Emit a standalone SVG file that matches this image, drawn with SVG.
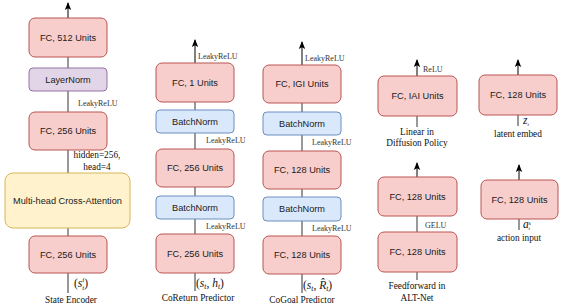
<svg xmlns="http://www.w3.org/2000/svg" width="563" height="307" viewBox="0 0 563 307">
<style>
.fc{fill:#f8cecc;stroke:#b85450;stroke-width:1}
.ln{fill:#e1d5e7;stroke:#9673a6;stroke-width:1}
.bn{fill:#dae8fc;stroke:#6c8ebf;stroke-width:1}
.att{fill:#fff2cc;stroke:#d6b656;stroke-width:1}
.t{font-family:"Liberation Sans",Arial,sans-serif;font-size:9.2px;fill:#1a1a1a;text-anchor:middle;dominant-baseline:central}
.s{font-family:"Liberation Serif","Times New Roman",serif;font-size:8px;fill:#333}
.c{font-family:"Liberation Serif","Times New Roman",serif;font-size:9.3px;fill:#111;text-anchor:middle}
.m{font-family:"Liberation Serif","Times New Roman",serif;font-size:11.5px;fill:#111}
.mi{font-style:italic}
.e{stroke:#333;stroke-width:1;fill:none}
.ea{stroke:#000;stroke-width:1;fill:none;marker-end:url(#ah)}
</style>
<defs>
<marker id="ah" markerUnits="userSpaceOnUse" markerWidth="8" markerHeight="8" viewBox="0 0 8 8" refX="7" refY="4" orient="auto">
<path d="M0,0.8 L8,4 L0,7.2 L1.8,4 Z" fill="#000"/>
</marker>
</defs>
<g id="connectors">
<line class="ea" x1="68" y1="18" x2="68" y2="3"/>
<line class="e" x1="68" y1="57" x2="68" y2="68"/>
<line class="e" x1="68" y1="91" x2="68" y2="112"/>
<line class="e" x1="68" y1="150" x2="68" y2="173"/>
<line class="e" x1="68" y1="228" x2="68" y2="236"/>
<line class="e" x1="68" y1="273" x2="68" y2="293"/>

<line class="ea" x1="195" y1="63" x2="195" y2="40"/>
<line class="e" x1="195" y1="102" x2="195" y2="110"/>
<line class="e" x1="195" y1="133" x2="195" y2="149"/>
<line class="e" x1="195" y1="187" x2="195" y2="196"/>
<line class="e" x1="195" y1="219" x2="195" y2="234"/>
<line class="e" x1="195" y1="273" x2="195" y2="291"/>

<line class="ea" x1="302" y1="65" x2="302" y2="42"/>
<line class="e" x1="302" y1="103" x2="302" y2="112"/>
<line class="e" x1="302" y1="135" x2="302" y2="151"/>
<line class="e" x1="302" y1="189" x2="302" y2="197"/>
<line class="e" x1="302" y1="221" x2="302" y2="236"/>
<line class="e" x1="302" y1="274" x2="302" y2="293"/>

<line class="ea" x1="417" y1="76" x2="417" y2="60"/>
<line class="e" x1="417" y1="116" x2="417" y2="127"/>

<line class="ea" x1="518" y1="75" x2="518" y2="60"/>
<line class="e" x1="518" y1="115" x2="518" y2="126"/>

<line class="ea" x1="417" y1="177" x2="417" y2="163"/>
<line class="e" x1="417" y1="216" x2="417" y2="232"/>
<line class="e" x1="417" y1="272" x2="417" y2="280"/>

<line class="ea" x1="519" y1="180" x2="519" y2="165"/>
<line class="e" x1="519" y1="219" x2="519" y2="230"/>
</g>

<g id="state-encoder">
<g id="se-fc512"><rect class="fc" x="29" y="18" width="78" height="39" rx="6"/><text class="t" x="68" y="37.5">FC, 512 Units</text></g>
<g id="se-layernorm"><rect class="ln" x="29" y="68" width="78" height="23" rx="4"/><text class="t" x="68" y="79.5">LayerNorm</text></g>
<text class="s" x="78" y="106">LeakyReLU</text>
<g id="se-fc256a"><rect class="fc" x="29" y="112" width="78" height="38" rx="6"/><text class="t" x="68" y="131">FC, 256 Units</text></g>
<text class="c" x="97" y="158">hidden=256,</text>
<text class="c" x="97" y="170">head=4</text>
<g id="se-attention"><rect class="att" x="5" y="173" width="125" height="55" rx="8"/><text class="t" x="67.5" y="200.5">Multi-head Cross-Attention</text></g>
<g id="se-fc256b"><rect class="fc" x="29" y="236" width="78" height="37" rx="6"/><text class="t" x="68" y="254.5">FC, 256 Units</text></g>
<text class="m" x="74" y="287">(<tspan class="mi">s</tspan><tspan font-size="7" class="mi" dy="-5">i</tspan><tspan font-size="7" class="mi" dx="-2" dy="8">t</tspan><tspan dy="-3">)</tspan></text>
<text class="c" x="71" y="303">State Encoder</text>
</g>

<g id="coreturn">
<text class="s" x="198" y="59">LeakyReLU</text>
<g id="cr-fc1"><rect class="fc" x="156" y="63" width="78" height="39" rx="6"/><text class="t" x="195" y="82.5">FC, 1 Units</text></g>
<g id="cr-bn1"><rect class="bn" x="156" y="110" width="78" height="23" rx="4"/><text class="t" x="195" y="121.5">BatchNorm</text></g>
<text class="s" x="206" y="143">LeakyReLU</text>
<g id="cr-fc256a"><rect class="fc" x="156" y="149" width="78" height="38" rx="6"/><text class="t" x="195" y="168">FC, 256 Units</text></g>
<g id="cr-bn2"><rect class="bn" x="156" y="196" width="78" height="23" rx="4"/><text class="t" x="195" y="207.5">BatchNorm</text></g>
<text class="s" x="206" y="229">LeakyReLU</text>
<g id="cr-fc256b"><rect class="fc" x="156" y="234" width="78" height="39" rx="6"/><text class="t" x="195" y="253.5">FC, 256 Units</text></g>
<text class="m" x="196" y="287">(<tspan class="mi">s</tspan><tspan font-size="7.5" class="mi" dy="2">t</tspan><tspan dy="-2">, </tspan><tspan class="mi">h</tspan><tspan font-size="7.5" class="mi" dy="2">t</tspan><tspan dy="-2">)</tspan></text>
<text class="c" x="198" y="301">CoReturn Predictor</text>
</g>

<g id="cogoal">
<text class="s" x="305" y="61">LeakyReLU</text>
<g id="cg-fcg"><rect class="fc" x="263" y="65" width="78" height="38" rx="6"/><text class="t" x="302" y="84">FC, IGI Units</text></g>
<g id="cg-bn1"><rect class="bn" x="263" y="112" width="78" height="23" rx="4"/><text class="t" x="302" y="123.5">BatchNorm</text></g>
<text class="s" x="312" y="145">LeakyReLU</text>
<g id="cg-fc128a"><rect class="fc" x="263" y="151" width="78" height="38" rx="6"/><text class="t" x="302" y="170">FC, 128 Units</text></g>
<g id="cg-bn2"><rect class="bn" x="263" y="197" width="78" height="24" rx="4"/><text class="t" x="302" y="209">BatchNorm</text></g>
<text class="s" x="312" y="231">LeakyReLU</text>
<g id="cg-fc128b"><rect class="fc" x="263" y="236" width="78" height="38" rx="6"/><text class="t" x="302" y="255">FC, 128 Units</text></g>
<text class="m" x="303" y="289">(<tspan class="mi">s</tspan><tspan font-size="7.5" class="mi" dy="2">t</tspan><tspan dy="-2">, </tspan><tspan class="mi">R̂</tspan><tspan font-size="7.5" class="mi" dy="2">t</tspan><tspan dy="-2">)</tspan></text>
<text class="c" x="302" y="303">CoGoal Predictor</text>
</g>

<g id="diffusion-linear">
<text class="s" x="423" y="72">ReLU</text>
<g id="dl-fca"><rect class="fc" x="378" y="76" width="79" height="40" rx="6"/><text class="t" x="417.5" y="96">FC, IAI Units</text></g>
<text class="c" x="417" y="135">Linear in</text>
<text class="c" x="417" y="146">Diffusion Policy</text>
</g>

<g id="latent-embed">
<g id="le-fc128"><rect class="fc" x="479" y="75" width="78" height="40" rx="6"/><text class="t" x="518" y="95">FC, 128 Units</text></g>
<text class="m" x="523" y="124" font-size="7"><tspan class="mi">z</tspan><tspan font-size="5" class="mi" dy="1.5">t</tspan></text>
<text class="c" x="518" y="137">latent embed</text>
</g>

<g id="alt-ffn">
<g id="ff-fc128a"><rect class="fc" x="378" y="177" width="79" height="39" rx="6"/><text class="t" x="417.5" y="196.5">FC, 128 Units</text></g>
<text class="s" x="425" y="228">GELU</text>
<g id="ff-fc128b"><rect class="fc" x="378" y="232" width="79" height="40" rx="6"/><text class="t" x="417.5" y="252">FC, 128 Units</text></g>
<text class="c" x="417" y="289">Feedforward in</text>
<text class="c" x="417" y="301">ALT-Net</text>
</g>

<g id="action-input">
<g id="ai-fc128"><rect class="fc" x="481" y="180" width="77" height="39" rx="6"/><text class="t" x="519.5" y="199.5">FC, 128 Units</text></g>
<text class="m" x="523" y="228" font-size="7"><tspan class="mi">a</tspan><tspan font-size="5" class="mi" dy="-3">k</tspan><tspan font-size="5" class="mi" dx="-2.6" dy="5">t</tspan></text>
<text class="c" x="519" y="241">action input</text>
</g>
</svg>
